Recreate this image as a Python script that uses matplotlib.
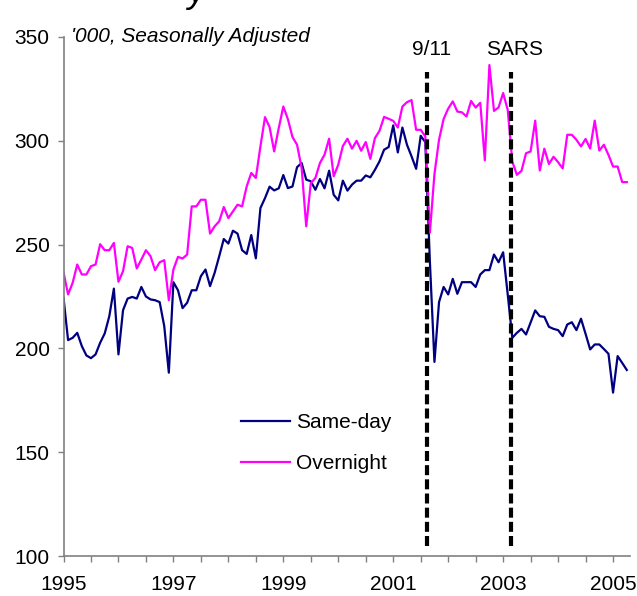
import matplotlib
matplotlib.use("Agg")
import matplotlib.pyplot as plt
import numpy as np

# monthly visitor arrivals, '000, seasonally adjusted, Jan 1995 - Apr 2005
same_day = [224.4, 204.0, 205.1, 207.5, 201.1, 196.6, 195.3, 197.1, 202.7, 207.2, 215.5, 228.8,
            197.1, 218.4, 224.0, 224.8, 224.0, 229.6, 225.0, 223.6, 223.2, 222.3, 210.7, 188.3,
            231.9, 228.0, 219.4, 222.0, 228.0, 228.0, 234.8, 238.0, 230.0, 236.4, 244.4, 252.7,
            250.5, 256.7, 255.3, 247.3, 245.5, 254.6, 243.4, 267.6, 272.4, 277.9, 276.1, 277.1,
            283.5, 277.2, 278.0, 287.3, 289.3, 281.3, 280.5, 276.4, 281.6, 277.1, 285.6, 274.0,
            271.3, 280.8, 276.0, 278.9, 280.8, 280.8, 283.3, 282.4, 286.0, 290.1, 295.7, 297.0,
            307.4, 294.4, 306.4, 298.1, 292.5, 286.5, 302.4, 299.4, 242.0, 193.5, 222.3, 229.6,
            226.0, 233.5, 226.3, 231.9, 231.9, 231.9, 229.6, 235.6, 237.7, 237.7, 245.2, 241.5,
            246.3, 226.0, 205.1, 207.5, 209.4, 206.7, 212.5, 218.3, 215.5, 215.2, 210.4, 209.4,
            208.8, 205.9, 211.5, 212.6, 208.8, 214.3, 207.0, 199.5, 201.9, 201.9, 199.7, 197.4,
            178.7, 196.3, 193.0, 189.6]
overnight = [236.7, 226.0, 231.6, 240.4, 235.6, 235.6, 239.6, 240.4, 250.2, 247.3, 247.3, 250.8,
             232.1, 237.2, 249.2, 248.4, 238.5, 242.8, 247.3, 244.4, 237.7, 241.5, 242.5, 223.2,
             238.0, 244.1, 243.3, 245.2, 268.4, 268.4, 271.6, 271.6, 255.3, 258.8, 261.2, 268.1,
             262.8, 266.0, 269.2, 268.4, 278.0, 284.5, 282.1, 297.3, 311.4, 306.6, 294.9, 306.1,
             316.5, 310.4, 301.8, 298.1, 286.9, 258.8, 279.6, 282.1, 289.3, 293.3, 301.0, 282.9,
             288.5, 297.5, 301.0, 296.2, 300.0, 295.2, 299.4, 291.3, 301.3, 304.8, 311.5, 310.6,
             309.6, 306.4, 316.5, 318.6, 319.6, 305.3, 305.3, 302.1, 255.7, 284.0, 300.5, 310.5,
             315.5, 319.0, 314.1, 313.7, 311.7, 319.2, 316.0, 318.3, 290.6, 336.5, 314.4, 316.1,
             323.0, 314.9, 290.0, 283.6, 285.5, 294.0, 294.9, 309.7, 285.7, 296.2, 288.8, 292.3,
             289.7, 286.7, 302.9, 302.9, 300.5, 297.3, 300.9, 296.3, 309.7, 295.3, 298.1, 293.2,
             287.6, 287.6, 280.1, 280.1]
start_year = 1995
events = ["9/11", "SARS"]
event_dates = [2001.62, 2003.14]
year_ticks = np.arange(1995, 2005.01, 0.5)
year_labels = [str(int(y)) if y % 2 == 1 else "" for y in year_ticks]

months = start_year + np.arange(len(same_day)) / 12.0

plt.rcParams['font.family'] = ['Liberation Sans', 'DejaVu Sans']
fig = plt.figure(figsize=(6.37, 5.96), dpi=100)
ax = fig.add_axes([63.5 / 637, 40 / 596, (630 - 63.5) / 637, 519 / 596])

ax.plot(months, same_day, color='#000080', lw=1.6, label='Same-day')
ax.plot(months, overnight, color='#FF00FF', lw=1.6, label='Overnight')

for d, lab in zip(event_dates, events):
    ax.vlines(d, 105, 333, color='black', lw=3, linestyles=(0, (2.4, 1.0)), zorder=5)
    ax.text(d + 0.07, 344, lab, ha='center', va='center', fontsize=15)

ax.text(1995 + 1.6 / 12, 350, "'000, Seasonally Adjusted", ha='left', va='center',
        fontsize=15, style='italic')

ax.set_xlim(1995, 1995 + 123.7 / 12)
ax.set_ylim(100, 350)
ax.set_xticks(year_ticks)
ax.set_xticklabels(year_labels)
ax.set_yticks(np.arange(100, 351, 50))

for s in ['top', 'right']:
    ax.spines[s].set_visible(False)
for s in ['left', 'bottom']:
    ax.spines[s].set_color('#808080')
    ax.spines[s].set_linewidth(1.2)
ax.tick_params(axis='both', direction='out', length=4, width=1, color='#808080', labelsize=15)
ax.tick_params(axis='y', pad=6)
ax.tick_params(axis='x', pad=10)

ax.legend(loc='upper left', bbox_to_anchor=(241 / 637, 1 - 413 / 596),
          bbox_transform=fig.transFigure, frameon=False, fontsize=15,
          handlelength=2.35, handletextpad=0.3, labelspacing=1.07,
          borderpad=0, borderaxespad=0)

# clipped remnant of the chart title at the very top
fig.text(187 / 637, 1 - 1.5 / 596, "y", fontsize=26, style='italic', va='baseline', ha='left')

fig.savefig("out.png", dpi=100)
